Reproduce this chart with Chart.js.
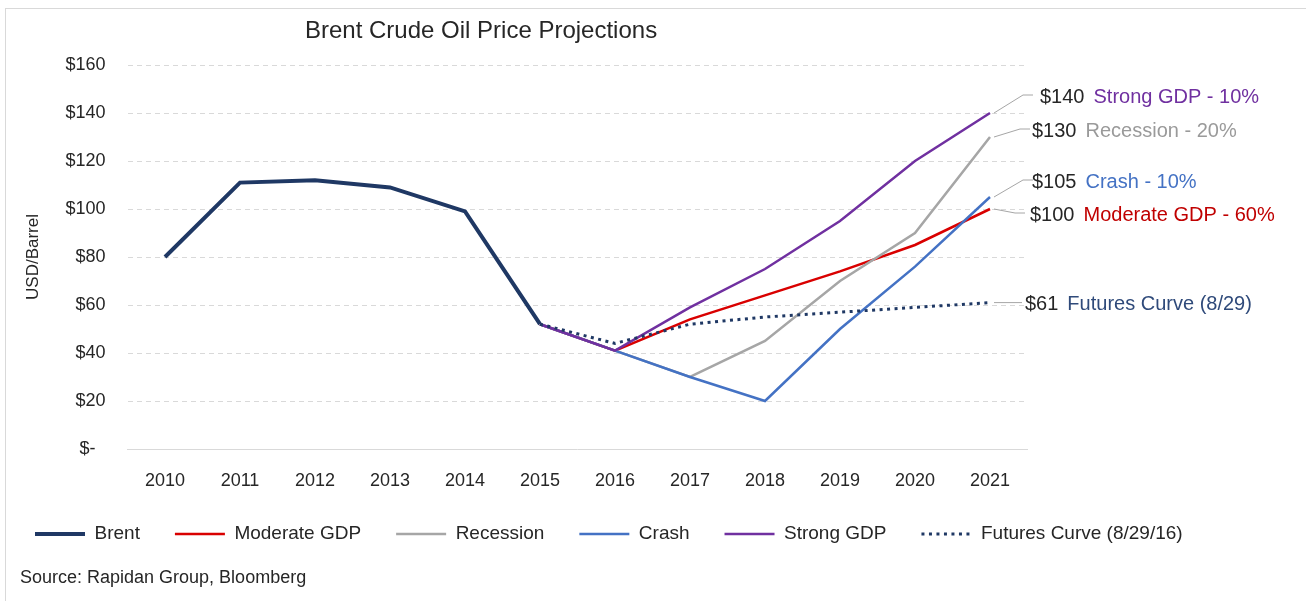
<!DOCTYPE html>
<html>
<head>
<meta charset="utf-8">
<script src="https://cdn.jsdelivr.net/npm/chart.js@4/dist/chart.umd.min.js"></script>
<style>
  body { margin: 0; background: #fff; }
  #wrap { position: relative; width: 1306px; height: 601px; }
</style>
</head>
<body>
<div id="wrap"><canvas id="oilChart" width="1306" height="601"></canvas></div>
<script>
// values
var years = ['2010', '2011', '2012', '2013', '2014', '2015', '2016', '2017', '2018', '2019', '2020', '2021'];
var brent       = [80, 111, 112, 109, 99, 52, null, null, null, null, null, null];
var moderateGdp = [null, null, null, null, null, 52, 41, 54, 64, 74, 85, 100];
var recession   = [null, null, null, null, null, 52, 41, 30, 45, 70, 90, 130];
var crash       = [null, null, null, null, null, 52, 41, 30, 20, 50, 76, 105];
var strongGdp   = [null, null, null, null, null, 52, 41, 59, 75, 95, 120, 140];
var futures     = [null, null, null, null, null, 52, 44, 52, 55, 57, 59, 61];
var yTicks = [0, 20, 40, 60, 80, 100, 120, 140, 160];
var scenarioNotes = ['Moderate GDP - 60%', 'Recession - 20%', 'Crash - 10%', 'Strong GDP - 10%', 'Futures Curve (8/29)'];

var FONT = "'Liberation Sans', Arial, sans-serif";
var navy = '#1F3864', red = '#D90000', grey = '#A6A6A6', blue = '#4472C4', purple = '#7030A0';

// Excel draws later series on top, so "order" is reversed and the legend sorted back
var datasets = [
    {label: 'Brent', data: brent, borderColor: navy, borderWidth: 4, order: 5},
    {label: 'Moderate GDP', data: moderateGdp, borderColor: red, borderWidth: 2.5, order: 4},
    {label: 'Recession', data: recession, borderColor: grey, borderWidth: 2.5, order: 3},
    {label: 'Crash', data: crash, borderColor: blue, borderWidth: 2.5, order: 2},
    {label: 'Strong GDP', data: strongGdp, borderColor: purple, borderWidth: 2.5, order: 1},
    {label: 'Futures Curve (8/29/16)', data: futures, borderColor: navy, borderWidth: 3,
        borderDash: [3, 4.5], order: 0}
];
datasets.forEach(function(d) {
    d.pointRadius = 0;
    d.tension = 0;
    d.fill = false;
    d.backgroundColor = d.borderColor;
});

// where the right-hand notes sit relative to the last point of each line
var noteSpots = [
    {ds: 4, note: 3, color: purple, dy: -18, dx: 43, tx: 50},
    {ds: 2, note: 1, color: '#9A9A9A', dy: -8, dx: 40, tx: 42},
    {ds: 3, note: 2, color: blue, dy: -17, dx: 43, tx: 42},
    {ds: 1, note: 0, color: '#C00000', dy: 4, dx: 35, tx: 40},
    {ds: 5, note: 4, color: '#2F4A7A', dy: 0, dx: 32, tx: 35}
];

var decorations = {
    id: 'decorations',
    beforeDraw: function(chart) {
        var ctx = chart.ctx;
        ctx.save();
        ctx.fillStyle = '#fff';
        ctx.fillRect(0, 0, chart.width, chart.height);
        ctx.strokeStyle = '#D9D9D9';
        ctx.lineWidth = 1;
        ctx.strokeRect(5.5, 8.5, 1400, 700);
        ctx.restore();
    },
    afterDraw: function(chart) {
        var ctx = chart.ctx;
        ctx.save();
        ctx.fillStyle = '#262626';
        ctx.textBaseline = 'middle';
        ctx.textAlign = 'left';
        ctx.font = '24px ' + FONT;
        ctx.fillText('Brent Crude Oil Price Projections', 305, 31);
        ctx.font = '18px ' + FONT;
        ctx.fillText('Source: Rapidan Group, Bloomberg', 20, 578);

        noteSpots.forEach(function(n) {
            var meta = chart.getDatasetMeta(n.ds);
            var pts = meta.data;
            var p = pts[pts.length - 1];
            var vals = chart.data.datasets[n.ds].data;
            var v = vals[vals.length - 1];
            var ly = p.y + n.dy;
            ctx.strokeStyle = '#A6A6A6';
            ctx.lineWidth = 1;
            ctx.beginPath();
            ctx.moveTo(p.x + 4, p.y);
            ctx.lineTo(p.x + n.dx - 10, ly);
            ctx.lineTo(p.x + n.dx, ly);
            ctx.stroke();
            ctx.font = '20px ' + FONT;
            ctx.fillStyle = '#262626';
            var t = '$' + v;
            ctx.fillText(t, p.x + n.tx, ly + 2);
            var w = ctx.measureText(t).width;
            ctx.fillStyle = n.color;
            ctx.fillText(scenarioNotes[n.note], p.x + n.tx + w + 9, ly + 2);
        });
        ctx.restore();
    }
};

var ctx = document.getElementById('oilChart').getContext('2d');
var oilChart = new Chart(ctx, {
    type: 'line',
    data: {labels: years, datasets: datasets},
    plugins: [decorations],
    options: {
        responsive: false,
        animation: false,
        devicePixelRatio: 1,
        layout: {padding: {top: 65, right: 0, bottom: 47.5, left: 0}},
        plugins: {
            title: {display: false},
            tooltip: {enabled: false},
            legend: {
                position: 'bottom',
                align: 'start',
                labels: {
                    usePointStyle: true,
                    pointStyle: 'line',
                    pointStyleWidth: 50,
                    boxHeight: 19,
                    padding: 35,
                    color: '#262626',
                    font: {family: FONT, size: 19},
                    sort: function(a, b) { return a.datasetIndex - b.datasetIndex; },
                    generateLabels: function(chart) {
                        // point-style legend items lose the line dash, so put it back
                        var items = Chart.defaults.plugins.legend.labels.generateLabels(chart);
                        items.forEach(function(it) {
                            var ds = chart.data.datasets[it.datasetIndex];
                            it.lineDash = ds.borderDash || [];
                            it.lineWidth = ds.borderWidth;
                            it.strokeStyle = ds.borderColor;
                        });
                        return items;
                    }
                }
            }
        },
        scales: {
            x: {
                offset: true,
                grid: {display: false, drawTicks: false},
                border: {display: true, color: '#D9D9D9', width: 1},
                ticks: {color: '#262626', padding: 21, font: {family: FONT, size: 18}},
                afterFit: function(s) { s.height = 40.5; }
            },
            y: {
                min: 0,
                max: 160,
                afterBuildTicks: function(s) { s.ticks = yTicks.map(function(v) { return {value: v}; }); },
                grid: {color: '#D9D9D9', drawTicks: false},
                border: {display: false, dash: [5, 4]},
                ticks: {
                    color: '#262626',
                    padding: 22,
                    font: {family: FONT, size: 18},
                    callback: function(v) { return v === 0 ? '$-  ' : '$' + v; }
                },
                title: {
                    display: true,
                    text: 'USD/Barrel',
                    color: '#262626',
                    padding: {top: 23, bottom: 0},
                    font: {family: FONT, size: 17}
                },
                afterFit: function(s) { s.width = 127.5; }
            },
            yRight: {
                position: 'right',
                display: true,
                grid: {display: false, drawTicks: false},
                border: {display: false},
                ticks: {display: false},
                afterFit: function(s) { s.width = 278.5; }
            }
        }
    }
});
</script>
</body>
</html>
